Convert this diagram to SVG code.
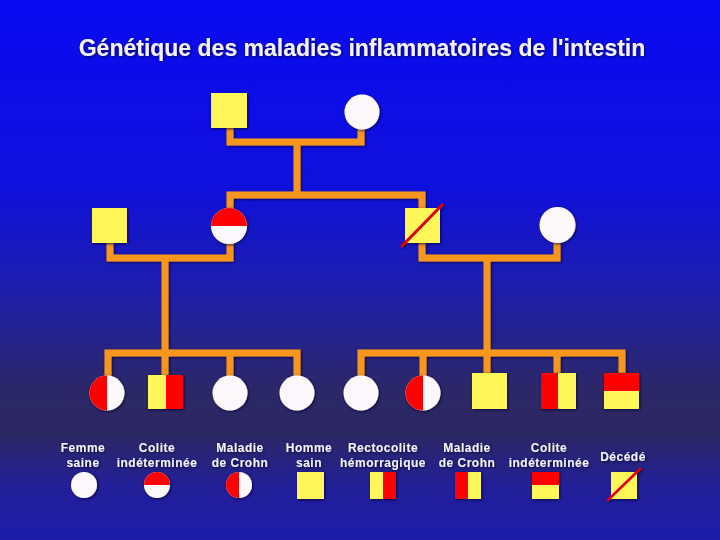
<svg xmlns="http://www.w3.org/2000/svg" width="720" height="540" viewBox="0 0 720 540">
<defs>
<linearGradient id="bg" x1="0" y1="0" x2="0" y2="1">
<stop offset="0" stop-color="#0a0af2"/>
<stop offset="0.35" stop-color="#1010dc"/>
<stop offset="0.55" stop-color="#1f1fa8"/>
<stop offset="0.72" stop-color="#2c2768"/>
<stop offset="0.8" stop-color="#2d2862"/>
<stop offset="0.9" stop-color="#221f98"/>
<stop offset="1" stop-color="#1c1caa"/>
</linearGradient>
<filter id="sh" x="-30%" y="-30%" width="160%" height="160%">
<feDropShadow dx="1" dy="1" stdDeviation="1.6" flood-color="#000030" flood-opacity="0.8"/>
</filter>
<style>
.t{font-family:"Liberation Sans",Arial,sans-serif;font-weight:bold;fill:#f4f2ff}
.lg{font-size:12px;text-anchor:middle;letter-spacing:0.5px}
.y{fill:#fff65a}
.r{fill:#ff0000}
.w{fill:#fcf8fc}
.ln{fill:none;stroke:#f7961a;stroke-width:7;stroke-linejoin:miter}
.sl{stroke:#e00000;stroke-width:3;stroke-linecap:round}
</style>
</defs>
<rect width="720" height="540" fill="url(#bg)"/>
<text class="t" x="362" y="56" font-size="23" text-anchor="middle" filter="url(#sh)">Génétique des maladies inflammatoires de l'intestin</text>

<g id="connectors" filter="url(#sh)">
<path class="ln" d="M230,128 V142 H361 V128"/>
<path class="ln" d="M297,142 V195"/>
<path class="ln" d="M230,208 V195 H422 V208"/>
<path class="ln" d="M110,243 V258 H230 V243"/>
<path class="ln" d="M422,243 V258 H557 V243"/>
<path class="ln" d="M165,258 V375"/>
<path class="ln" d="M108,376 V353 H297 V376"/>
<path class="ln" d="M230,353 V376"/>
<path class="ln" d="M487,258 V373"/>
<path class="ln" d="M361,376 V353 H622 V373"/>
<path class="ln" d="M423,353 V376"/>
<path class="ln" d="M557,353 V373"/>
</g>

<g filter="url(#sh)">
<g id="gf1"><rect class="y" x="211" y="93" width="36" height="35"/></g>
<g id="gm1"><circle class="w" cx="362" cy="112" r="17.5"/></g>
<g id="f2"><rect class="y" x="92" y="208" width="35" height="35"/></g>
<g id="m2"><circle class="w" cx="229" cy="226" r="18"/><path class="r" d="M211,226 A18,18 0 0 1 247,226 Z"/></g>
<g id="f3"><rect class="y" x="405" y="208" width="35" height="35"/><line class="sl" x1="402" y1="246" x2="442" y2="205"/></g>
<g id="m3"><circle class="w" cx="557.5" cy="225" r="18"/></g>

<g id="c1"><circle class="w" cx="107" cy="393" r="17.5"/><path class="r" d="M107,375.5 A17.5,17.5 0 0 0 107,410.5 Z"/></g>
<g id="c2"><rect class="y" x="148" y="375" width="18" height="34"/><rect class="r" x="166" y="375" width="17" height="34"/></g>
<g id="c3"><circle class="w" cx="230" cy="393" r="17.5"/></g>
<g id="c4"><circle class="w" cx="297" cy="393" r="17.5"/></g>
<g id="c5"><circle class="w" cx="361" cy="393" r="17.5"/></g>
<g id="c6"><circle class="w" cx="423" cy="393" r="17.5"/><path class="r" d="M423,375.5 A17.5,17.5 0 0 0 423,410.5 Z"/></g>
<g id="c7"><rect class="y" x="472" y="373" width="35" height="36"/></g>
<g id="c8"><rect class="r" x="541" y="373" width="17" height="36"/><rect class="y" x="558" y="373" width="18" height="36"/></g>
<g id="c9"><rect class="y" x="604" y="373" width="35" height="36"/><rect class="r" x="604" y="373" width="35" height="18"/></g>
</g>

<g id="legend">
<g class="t lg" filter="url(#sh)">
<text x="83" y="452">Femme</text><text x="83" y="467">saine</text>
<text x="157" y="452">Colite</text><text x="157" y="467">indéterminée</text>
<text x="240" y="452">Maladie</text><text x="240" y="467">de Crohn</text>
<text x="309" y="452">Homme</text><text x="309" y="467">sain</text>
<text x="383" y="452">Rectocolite</text><text x="383" y="467">hémorragique</text>
<text x="467" y="452">Maladie</text><text x="467" y="467">de Crohn</text>
<text x="549" y="452">Colite</text><text x="549" y="467">indéterminée</text>
<text x="623" y="461">Décédé</text>
</g>
<g filter="url(#sh)">
<circle class="w" cx="84" cy="485" r="13"/>
<circle class="w" cx="157" cy="485" r="13"/><path class="r" d="M144,485 A13,13 0 0 1 170,485 Z"/>
<circle class="w" cx="239" cy="485" r="13"/><path class="r" d="M239,472 A13,13 0 0 0 239,498 Z"/>
<rect class="y" x="297" y="472" width="27" height="27"/>
<rect class="y" x="370" y="472" width="13" height="27"/><rect class="r" x="383" y="472" width="13" height="27"/>
<rect class="r" x="455" y="472" width="13" height="27"/><rect class="y" x="468" y="472" width="13" height="27"/>
<rect class="y" x="532" y="472" width="27" height="27"/><rect class="r" x="532" y="472" width="27" height="13"/>
<rect class="y" x="611" y="472" width="26" height="27"/><line class="sl" x1="608" y1="500" x2="640" y2="469" style="stroke-width:2.5"/>
</g>
</g>
</svg>
